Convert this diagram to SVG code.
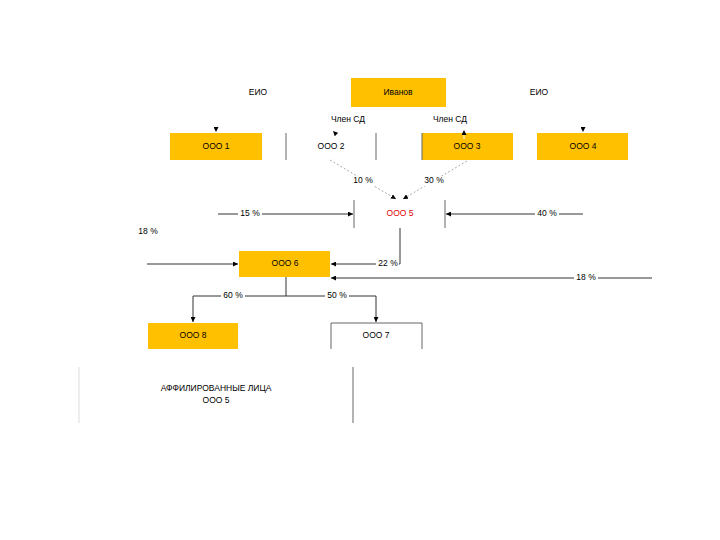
<svg xmlns="http://www.w3.org/2000/svg" width="720" height="540" viewBox="0 0 720 540">
<defs>
<marker id="ah" viewBox="0 0 10 10" refX="10" refY="5" markerWidth="5" markerHeight="5" orient="auto" markerUnits="userSpaceOnUse"><path d="M0,0 L10,5 L0,10 z" fill="#000"/></marker>
</defs>
<style>
text{font-family:"Liberation Sans",Arial,sans-serif;font-size:8.5px;fill:#000;text-anchor:middle;dominant-baseline:middle}
.y{fill:#FFC000;stroke:none}
.ln{stroke:#333;stroke-width:1;fill:none}
.dot{stroke:#aaa;stroke-width:1;fill:none;stroke-dasharray:2,2}
.side{stroke:#666;stroke-width:1}
.lab{fill:#fff;stroke:none}
</style>
<rect width="720" height="540" fill="#fff"/>
<g id="ivanov"><rect class="y" x="351" y="78" width="95" height="29"/><text x="398" y="93">Иванов</text></g>
<g id="eio-left"><text x="258" y="93">ЕИО</text></g>
<g id="eio-right"><text x="539" y="93">ЕИО</text></g>
<g id="ooo1"><rect class="y" x="170" y="133" width="92" height="27"/><text x="216" y="147">ООО 1</text></g>
<g id="ooo2"><line class="side" x1="286" y1="133" x2="286" y2="160"/><line class="side" x1="376" y1="133" x2="376" y2="160"/><text x="331" y="147">ООО 2</text></g>
<g id="ooo3"><rect class="y" x="422" y="133" width="91" height="27"/><line class="side" x1="422" y1="133" x2="422" y2="160"/><text x="467" y="147">ООО 3</text></g>
<g id="ooo4"><rect class="y" x="537" y="133" width="91" height="27"/><text x="583" y="147">ООО 4</text></g>
<g id="ooo5"><line class="side" x1="354" y1="200" x2="354" y2="228"/><line class="side" x1="445" y1="200" x2="445" y2="228"/><text x="400" y="214" style="fill:#d00">ООО 5</text></g>
<g id="ooo6"><rect class="y" x="239" y="251" width="91" height="26" stroke="#444" stroke-width="0.8"/><text x="285" y="264">ООО 6</text></g>
<g id="ooo8"><rect class="y" x="148" y="323" width="90" height="26"/><text x="193" y="336">ООО 8</text></g>
<g id="ooo7"><line class="side" x1="331" y1="323" x2="331" y2="349"/><line class="side" x1="422" y1="323" x2="422" y2="349"/><line class="side" x1="331" y1="323" x2="422" y2="323"/><text x="376" y="336">ООО 7</text></g>
<g id="affiliates"><line x1="79" y1="367" x2="79" y2="423" stroke="#ddd"/><line class="side" x1="353" y1="367" x2="353" y2="423"/><text x="216" y="389">АФФИЛИРОВАННЫЕ ЛИЦА</text><text x="216" y="401">ООО 5</text></g>
<g id="connectors">
<line x1="216" y1="124" x2="216" y2="132" stroke="#fff" marker-end="url(#ah)"/>
<line x1="583" y1="124" x2="583" y2="132" stroke="#fff" marker-end="url(#ah)"/>
<line x1="340" y1="138" x2="333" y2="131" stroke="#fff" marker-end="url(#ah)"/>
<line x1="464" y1="139" x2="464" y2="130" stroke="#fff" marker-end="url(#ah)"/>
<text x="348" y="120">Член СД</text>
<text x="450" y="120">Член СД</text>
<path class="dot" d="M330,160 L396,199" marker-end="url(#ah)"/>
<path class="dot" d="M467,161 L403,199" marker-end="url(#ah)"/>
<rect class="lab" x="351" y="176" width="24" height="10"/><text x="363" y="181">10 %</text>
<rect class="lab" x="422" y="176" width="24" height="10"/><text x="434" y="181">30 %</text>
<path class="ln" d="M218,214 H353" marker-end="url(#ah)"/>
<rect class="lab" x="238" y="209" width="24" height="10"/><text x="250" y="214">15 %</text>
<path class="ln" d="M583,214 H446" marker-end="url(#ah)"/>
<rect class="lab" x="535" y="209" width="24" height="10"/><text x="547" y="214">40 %</text>
<path class="ln" d="M400,228 V264 H331" marker-end="url(#ah)"/>
<rect class="lab" x="376" y="259" width="23" height="10"/><text x="388" y="264">22 %</text>
<text x="148" y="232">18 %</text>
<path class="ln" d="M147,264 H238" marker-end="url(#ah)"/>
<path class="ln" d="M652,278 H331" marker-end="url(#ah)"/>
<rect class="lab" x="574" y="273" width="24" height="10"/><text x="586" y="278">18 %</text>
<path class="ln" d="M286,277 V296"/>
<path class="ln" d="M286,296 H193 V322" marker-end="url(#ah)"/>
<path class="ln" d="M286,296 H376 V322" marker-end="url(#ah)"/>
<rect class="lab" x="221" y="291" width="24" height="10"/><text x="233" y="296">60 %</text>
<rect class="lab" x="325" y="291" width="24" height="10"/><text x="337" y="296">50 %</text>
</g>
</svg>
